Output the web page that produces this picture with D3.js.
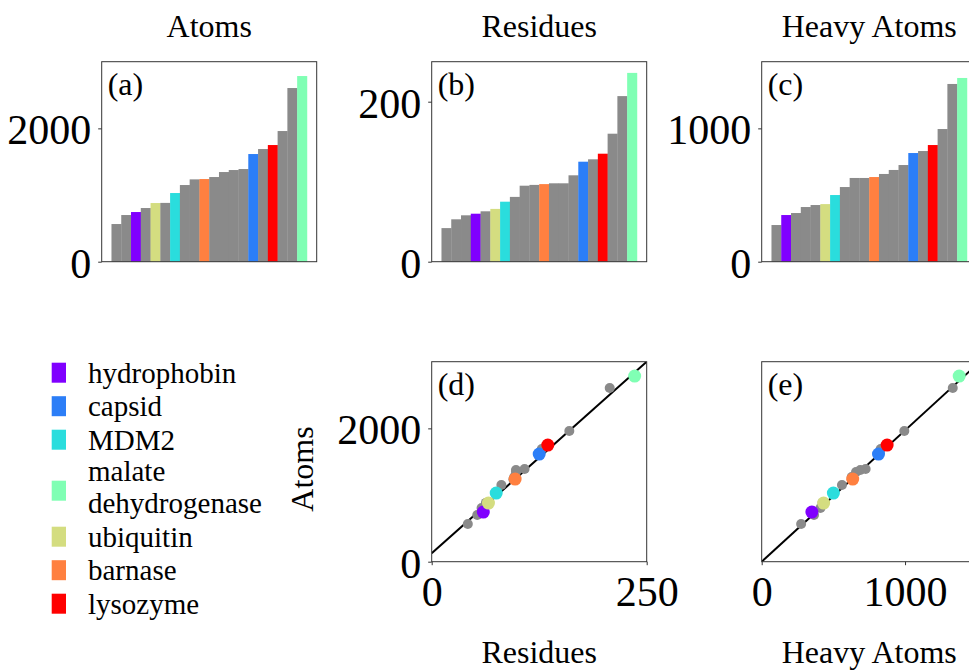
<!DOCTYPE html>
<html><head><meta charset="utf-8">
<script src="https://cdn.jsdelivr.net/npm/d3@7"></script>
<style>
body{margin:0;background:#fff}
svg text{font-family:"Liberation Serif","Times New Roman",serif;fill:#000}
</style>
</head><body>
<svg id="chart" width="969" height="672"></svg>
<script>
// ---------- data ----------
const proteinNames = ["hydrophobin","capsid","MDM2","malate dehydrogenase","ubiquitin","barnase","lysozyme",
  "other 1","other 2","other 3","other 4","other 5","other 6","other 7","other 8","other 9","other 10","other 11","other 12","other 13"];
const atoms      = [745,1615,1030,2785,880,1240,1750, 565,700,805,882,1150,1235,1270,1345,1375,1390,1690,1960,2605];
const residues   = [60,125,75,236,66,97,135,          42,53,58,63,81,95,96,98,98,108,128,160,207];
const heavyAtoms = [350,815,500,1378,432,635,875,     275,365,410,425,560,628,628,658,688,725,830,995,1333];

const legendLabels = ["hydrophobin","capsid","MDM2","malate dehydrogenase","ubiquitin","barnase","lysozyme"];
const legendColors = ["#8000ff","#2c7ef7","#2adddd","#80ffb4","#d4dd80","#ff8040","#ff0000"];
const otherColor = "#8a8a8a";

const barTitles = ["Atoms","Residues","Heavy Atoms"];
const barLetters = ["(a)","(b)","(c)"];
const barYMax = [3000, 250, 1500];
const barYTicks = [[0,2000],[0,200],[0,1000]];

const scatterLetters = ["(d)","(e)"];
const scatterXLabels = ["Residues","Heavy Atoms"];
const scatterXMax = [250, 1500];
const scatterXTicks = [[0,250],[0,1000]];
const scatterYMax = 3000;
const scatterYTicks = [0,2000];
const fitSlope = [11.5, 1.97];
const fitIntercept = [125, 0];

// ---------- helpers ----------
const svg = d3.select("#chart");
const colorOf = i => {
  const k = legendLabels.indexOf(proteinNames[i]);
  return k < 0 ? otherColor : legendColors[k];
};
const isOther = i => legendLabels.indexOf(proteinNames[i]) < 0;
const metrics = [atoms, residues, heavyAtoms];

const panelW = 215, panelH = 200;
const colLeft = [101.7, 431.7, 761.7];
const barTop = 61.7, scatTop = 361.7;
const frameColor = "#333";

function styleAxis(g, fontSize){
  g.select(".domain").remove();
  g.selectAll(".tick line").attr("stroke", frameColor).attr("stroke-width", 1);
  g.selectAll(".tick text").attr("font-size", fontSize).attr("fill", "#000")
    .style("font-family", '"Liberation Serif", serif');
}

// ---------- bar panels ----------
metrics.forEach((vals, p) => {
  const left = colLeft[p];
  const g = svg.append("g");
  const order = d3.range(vals.length).sort((a, b) => vals[a] - vals[b]);
  const x = d3.scaleBand().domain(d3.range(vals.length)).range([left, left + panelW])
    .paddingInner(0).paddingOuter(1);
  const y = d3.scaleLinear().domain([0, barYMax[p]]).range([barTop + panelH, barTop]);

  g.selectAll("rect.bar").data(order).join("rect")
    .attr("class", "bar")
    .attr("x", (d, r) => x(r))
    .attr("width", x.bandwidth() + 0.3)
    .attr("y", d => y(vals[d]))
    .attr("height", d => y(0) - y(vals[d]))
    .attr("fill", d => colorOf(d));

  g.append("rect").attr("x", left).attr("y", barTop).attr("width", panelW).attr("height", panelH)
    .attr("fill", "none").attr("stroke", frameColor).attr("stroke-width", 1);

  const ya = g.append("g").attr("transform", `translate(${left},0)`)
    .call(d3.axisLeft(y).tickValues(barYTicks[p]).tickSize(3.5).tickPadding(7).tickFormat(d3.format("d")));
  styleAxis(ya, 42);
  ya.selectAll(".tick text").attr("dy", "0.37em");

  g.append("text").attr("x", left + panelW / 2).attr("y", 36.5).attr("text-anchor", "middle")
    .attr("font-size", 32).text(barTitles[p]);
  g.append("text").attr("x", left + 6).attr("y", barTop + 33).attr("font-size", 32).text(barLetters[p]);
});

// ---------- scatter panels ----------
[residues, heavyAtoms].forEach((xv, p) => {
  const left = colLeft[p + 1];
  const g = svg.append("g");
  const x = d3.scaleLinear().domain([0, scatterXMax[p]]).range([left, left + panelW]);
  const y = d3.scaleLinear().domain([0, scatterYMax]).range([scatTop + panelH, scatTop]);

  const clipId = "clip" + p;
  svg.append("clipPath").attr("id", clipId).append("rect")
    .attr("x", left).attr("y", scatTop).attr("width", panelW).attr("height", panelH);

  const fx = [0, scatterXMax[p]];
  g.append("line").attr("clip-path", `url(#${clipId})`)
    .attr("x1", x(fx[0])).attr("y1", y(fitIntercept[p] + fitSlope[p] * fx[0]))
    .attr("x2", x(fx[1])).attr("y2", y(fitIntercept[p] + fitSlope[p] * fx[1]))
    .attr("stroke", "#000").attr("stroke-width", 2);

  const idx = d3.range(xv.length);
  const ordered = idx.filter(isOther).concat(idx.filter(i => !isOther(i)));
  g.selectAll("circle").data(ordered).join("circle")
    .attr("clip-path", `url(#${clipId})`)
    .attr("cx", d => x(xv[d])).attr("cy", d => y(atoms[d]))
    .attr("r", d => isOther(d) ? 5 : 6.5)
    .attr("fill", d => colorOf(d));

  g.append("rect").attr("x", left).attr("y", scatTop).attr("width", panelW).attr("height", panelH)
    .attr("fill", "none").attr("stroke", frameColor).attr("stroke-width", 1);

  const xa = g.append("g").attr("transform", `translate(0,${scatTop + panelH})`)
    .call(d3.axisBottom(x).tickValues(scatterXTicks[p]).tickSize(3.5).tickPadding(11).tickFormat(d3.format("d")));
  styleAxis(xa, 42);

  if (p === 0) {
    const ya = g.append("g").attr("transform", `translate(${left},0)`)
      .call(d3.axisLeft(y).tickValues(scatterYTicks).tickSize(3.5).tickPadding(7).tickFormat(d3.format("d")));
    styleAxis(ya, 42);
    ya.selectAll(".tick text").attr("dy", "0.37em");
  }

  g.append("text").attr("x", left + 6).attr("y", scatTop + 33).attr("font-size", 32).text(scatterLetters[p]);
  g.append("text").attr("x", left + panelW / 2).attr("y", 663).attr("text-anchor", "middle")
    .attr("font-size", 32).text(scatterXLabels[p]);
});

// y label of scatter row
svg.append("text").attr("transform", "translate(313,469) rotate(-90)")
  .attr("text-anchor", "middle").attr("font-size", 32).text("Atoms");

// ---------- legend ----------
const legend = svg.append("g");
legendLabels.forEach((lab, i) => {
  const cy = 372.7 + i * 33.5 + (i >= 3 ? 17.5 : 0) + (i >= 4 ? 12.5 : 0);
  legend.append("rect").attr("x", 51.7).attr("y", cy - 10).attr("width", 14.3).attr("height", 20)
    .attr("fill", legendColors[i]);
  const words = lab === "malate dehydrogenase" ? ["malate", "dehydrogenase"] : [lab];
  const t = legend.append("text").attr("x", 88)
    .attr("y", words.length === 1 ? cy + 10 : cy - 9.5).attr("font-size", 29)
    .attr("xml:space", "preserve");
  words.forEach((w, j) => {
    t.append("tspan").attr("x", 88).attr("dy", j === 0 ? 0 : 32).text(w);
  });
});
</script>
</body></html>
